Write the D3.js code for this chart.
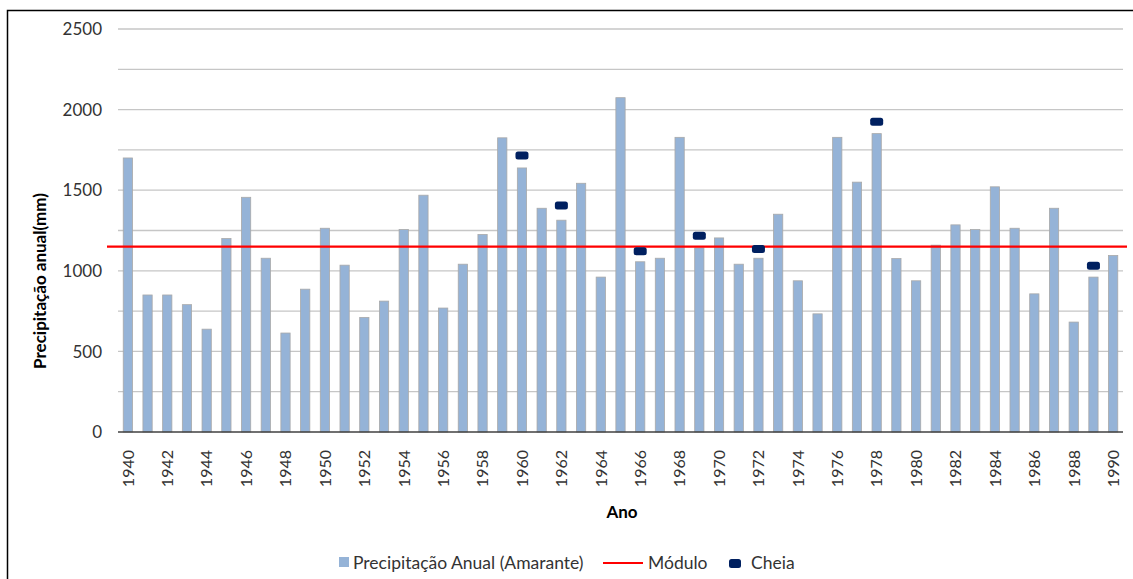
<!DOCTYPE html>
<html>
<head>
<meta charset="utf-8">
<script src="https://cdn.jsdelivr.net/npm/d3@7"></script>
<style>
  body { margin: 0; background: #fff; }
  text { font-family: Lato, "Open Sans", sans-serif; fill: #333; }
</style>
</head>
<body>
<svg id="chart" width="1133" height="579"></svg>
<script>
// annual precipitation, Amarante (mm)
const years = d3.range(1940, 1991);
const precip = [
  1700, 850, 850, 790, 638, 1200, 1456, 1078, 614, 886,
  1264, 1035, 711, 812, 1256, 1469, 769, 1041, 1225, 1825,
  1638, 1388, 1314, 1543, 961, 2074, 1056, 1078, 1828, 1142,
  1204, 1041, 1078, 1351, 938, 733, 1828, 1550, 1851, 1076,
  938, 1159, 1285, 1256, 1521, 1264, 857, 1388, 682, 961,
  1095
];
const cheiaYears = [1960, 1962, 1966, 1969, 1972, 1978, 1989];
const cheiaValues = [1715, 1405, 1122, 1217, 1136, 1925, 1031];
const modulo = 1150;
const yTicks = [0, 500, 1000, 1500, 2000, 2500];

const svg = d3.select("#chart");
const plot = {left: 118, right: 1123, top: 29, bottom: 432};

// outer frame
svg.append("rect")
    .attr("x", 7.5).attr("y", 10.5)
    .attr("width", 1140).attr("height", 600)
    .attr("fill", "none").attr("stroke", "#000").attr("stroke-width", 1.5);

const x = d3.scaleBand()
    .domain(years)
    .range([plot.left, plot.right])
    .paddingInner(0.53)
    .paddingOuter(0.265);

const y = d3.scaleLinear()
    .domain([0, 2500])
    .range([plot.bottom, plot.top]);

// gridlines
svg.append("g")
    .selectAll("line")
    .data(d3.range(250, 2501, 250))
    .enter().append("line")
    .attr("x1", plot.left).attr("x2", plot.right)
    .attr("y1", d => y(d)).attr("y2", d => y(d))
    .attr("stroke", "#c6c6c6").attr("stroke-width", 1.3);

// y tick labels
svg.append("g")
    .selectAll("text")
    .data(yTicks)
    .enter().append("text")
    .attr("x", 102)
    .attr("y", d => y(d))
    .attr("dy", "0.36em")
    .attr("text-anchor", "end")
    .style("font-size", "17px")
    .text(d => d);

// bars
svg.append("g")
    .selectAll("rect")
    .data(years)
    .enter().append("rect")
    .attr("x", d => x(d))
    .attr("width", x.bandwidth())
    .attr("y", (d, i) => y(precip[i]))
    .attr("height", (d, i) => y(0) - y(precip[i]))
    .attr("fill", "#95b3d7")
    .attr("stroke", "#a9a9a9")
    .attr("stroke-width", 0.8);

// x axis baseline
svg.append("line")
    .attr("x1", plot.left).attr("x2", plot.right)
    .attr("y1", y(0)).attr("y2", y(0))
    .attr("stroke", "#404040").attr("stroke-width", 1.5);

// x tick labels (even years)
svg.append("g")
    .selectAll("text")
    .data(years.filter(d => d % 2 === 0))
    .enter().append("text")
    .attr("transform", d => "translate(" + (x(d) + x.bandwidth() / 2) + ",450) rotate(-90)")
    .attr("dy", "0.36em")
    .attr("text-anchor", "end")
    .style("font-size", "16px")
    .text(d => d);

// modulo line
svg.append("line")
    .attr("x1", plot.left - 11).attr("x2", plot.right + 4)
    .attr("y1", y(modulo)).attr("y2", y(modulo))
    .attr("stroke", "#ff0000").attr("stroke-width", 2.2);

// cheia markers
svg.append("g")
    .selectAll("rect")
    .data(cheiaYears)
    .enter().append("rect")
    .attr("x", d => x(d) + x.bandwidth() / 2 - 6.5)
    .attr("y", (d, i) => y(cheiaValues[i]) - 4)
    .attr("width", 13).attr("height", 8)
    .attr("rx", 2.5)
    .attr("fill", "#002060");

// axis titles
svg.append("text")
    .attr("transform", "translate(40,281) rotate(-90)")
    .attr("dy", "0.36em")
    .attr("text-anchor", "middle")
    .style("font-size", "17px").style("font-weight", "bold")
    .style("fill", "#000")
    .text("Precipitação anual(mm)");

svg.append("text")
    .attr("x", 622).attr("y", 512)
    .attr("dy", "0.36em")
    .attr("text-anchor", "middle")
    .style("font-size", "17px").style("font-weight", "bold")
    .style("fill", "#000")
    .text("Ano");

// legend
const leg = svg.append("g");
leg.append("rect").attr("x", 339).attr("y", 557).attr("width", 10).attr("height", 10).attr("fill", "#95b3d7");
leg.append("text").attr("x", 353).attr("y", 563).attr("dy", "0.36em").style("font-size", "17.5px")
    .text("Precipitação Anual (Amarante)");
leg.append("line").attr("x1", 603).attr("x2", 643).attr("y1", 563).attr("y2", 563)
    .attr("stroke", "#ff0000").attr("stroke-width", 2);
leg.append("text").attr("x", 648).attr("y", 563).attr("dy", "0.36em").style("font-size", "17.5px")
    .text("Módulo");
leg.append("rect").attr("x", 729).attr("y", 559).attr("width", 12).attr("height", 9).attr("rx", 2.5)
    .attr("fill", "#002060");
leg.append("text").attr("x", 751).attr("y", 563).attr("dy", "0.36em").style("font-size", "17.5px")
    .text("Cheia");
</script>
</body>
</html>
